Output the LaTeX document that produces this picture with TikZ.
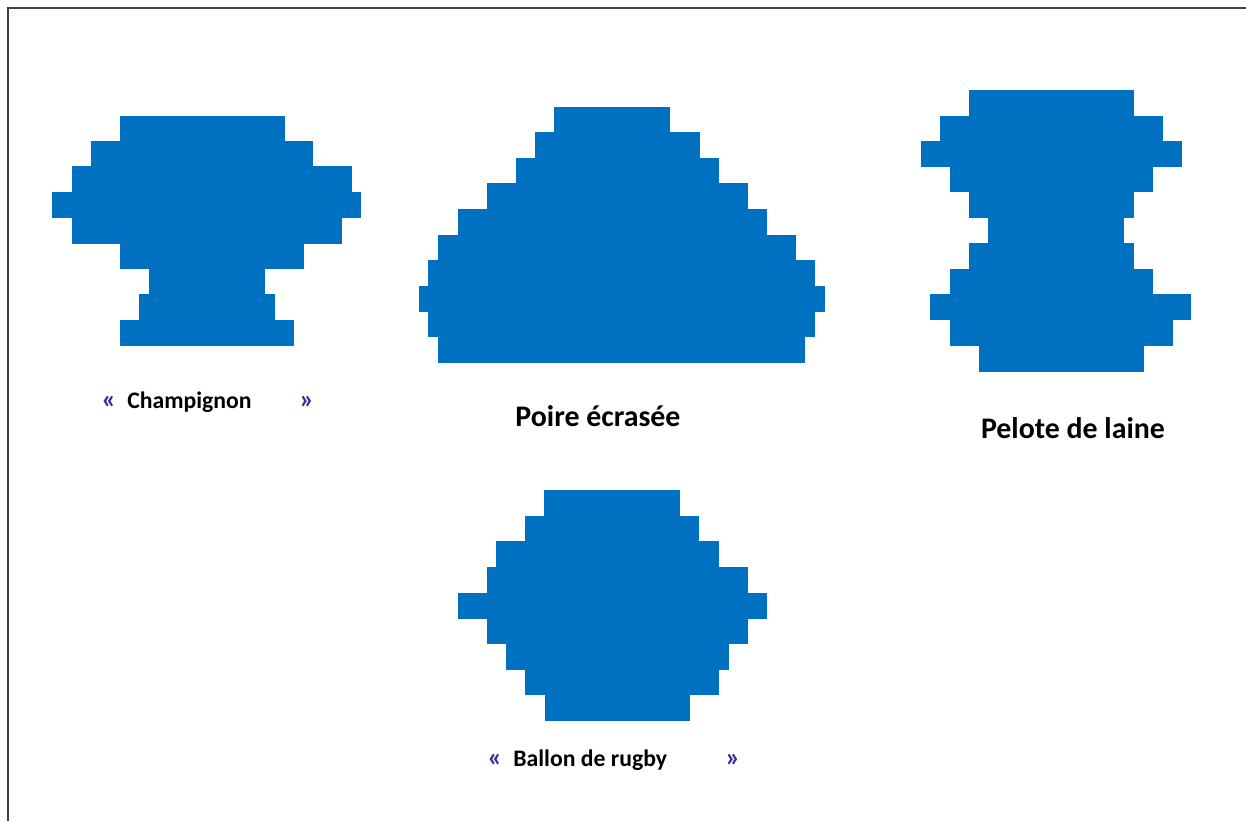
\documentclass[tikz,border=0pt]{standalone}
\usepackage{fontspec}
\setmainfont{Carlito}
\definecolor{shapeblue}{RGB}{0,112,192}
\definecolor{quoteblue}{RGB}{51,51,153}
\begin{document}
\begin{tikzpicture}[x=0.02cm, y=-0.02cm,
    blk/.style={fill=shapeblue},
    lbl/.style={font=\bfseries\fontsize{13.5}{16}\selectfont, inner sep=0pt},
    biglbl/.style={font=\bfseries\fontsize{17}{20}\selectfont, inner sep=0pt},
    quote/.style={font=\bfseries\fontsize{15.5}{18}\selectfont, text=quoteblue, inner sep=0pt}]
    % Page frame
    \useasboundingbox (0,0) rectangle (1246,821);
    \draw[line width=0.6pt, black!75] (8,821) -- (8,8) -- (1246,8);

    % Champignon
    \foreach \ya/\yb/\xa/\xb in {116/141/120/285, 141/166/91/313, 166/192/72/352,
        192/218/52/361, 218/244/72/342, 244/269/120/304, 269/294/149/265,
        294/320/139/275, 320/346/120/294}
        \fill[blk] (\xa-0.3,\ya-0.3) rectangle (\xb+0.3,\yb+0.3);

    % Poire ecrasee
    \foreach \ya/\yb/\xa/\xb in {107/132/554/670, 132/158/535/700, 158/183/516/719,
        183/209/487/748, 209/235/458/767, 235/260/438/796, 260/286/428/815,
        286/312/419/825, 312/337/428/815, 337/363/438/805}
        \fill[blk] (\xa-0.3,\ya-0.3) rectangle (\xb+0.3,\yb+0.3);

    % Pelote de laine
    \foreach \ya/\yb/\xa/\xb in {90/116/969/1134, 116/141/940/1163, 141/167/921/1182,
        167/192/950/1153, 192/218/969/1134, 218/243/988/1124, 243/269/969/1134,
        269/294/950/1153, 294/320/930/1191, 320/346/950/1173, 346/372/979/1144}
        \fill[blk] (\xa-0.3,\ya-0.3) rectangle (\xb+0.3,\yb+0.3);

    % Ballon de rugby
    \foreach \ya/\yb/\xa/\xb in {490/516/544/680, 516/541/525/699, 541/567/496/719,
        567/593/487/748, 593/619/458/767, 619/644/487/748, 644/670/506/729,
        670/695/525/719, 695/721/545/690}
        \fill[blk] (\xa-0.3,\ya-0.3) rectangle (\xb+0.3,\yb+0.3);

    % Labels
    \node[quote] (champL) at (109,402) {«};
    \node[lbl, anchor=west] (champ) at (127,402) {Champignon};
    \node[quote] (champR) at (307,402) {»};
    \node[biglbl] (poire) at (598,416) {Poire écrasée};
    \node[biglbl] (pelote) at (1073,428) {Pelote de laine};
    \node[quote] (rugbyL) at (495,760) {«};
    \node[lbl, anchor=west] (rugby) at (513,760) {Ballon de rugby};
    \node[quote] (rugbyR) at (733,760) {»};
\end{tikzpicture}
\end{document}
